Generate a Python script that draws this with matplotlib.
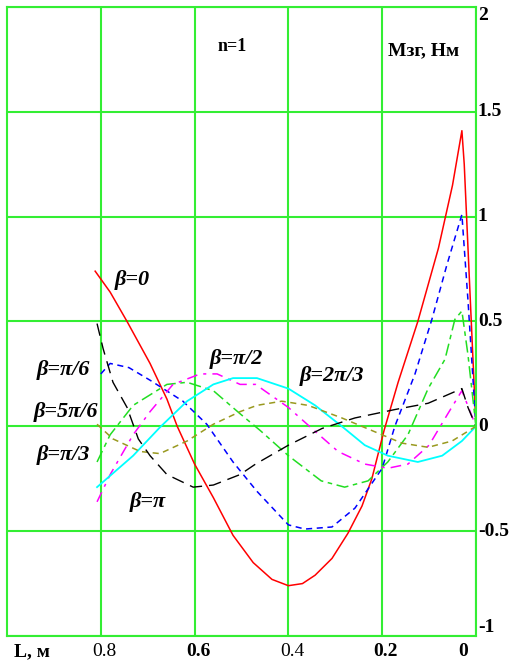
import numpy as np
import matplotlib.pyplot as plt
from matplotlib import transforms

# ---------------------------------------------------
# data (L in m, M in N*m)
# ---------------------------------------------------

L_b0 = [0.812, 0.78, 0.744, 0.695, 0.659, 0.637, 0.60, 0.56, 0.518, 0.475, 0.435, 0.40,
        0.37, 0.343, 0.307, 0.273, 0.243, 0.222, 0.196, 0.166, 0.124, 0.08, 0.05, 0.03,
        0.025, 0.02, 0.012, 0.0]
M_b0 = [0.74, 0.64, 0.50, 0.30, 0.13, 0.0, -0.18, -0.34, -0.52, -0.65, -0.73, -0.76,
        -0.75, -0.71, -0.63, -0.51, -0.38, -0.25, -0.02, 0.21, 0.50, 0.85, 1.15, 1.41,
        1.25, 1.0, 0.6, 0.0]

L_b30 = [0.80, 0.78, 0.74, 0.695, 0.625, 0.574, 0.518, 0.467, 0.40, 0.365, 0.307, 0.258,
         0.20, 0.173, 0.13, 0.094, 0.062, 0.03, 0.017, 0.0]
M_b30 = [0.25, 0.30, 0.28, 0.22, 0.12, 0.01, -0.17, -0.31, -0.47, -0.49, -0.48, -0.39,
         -0.20, 0.0, 0.25, 0.51, 0.77, 1.01, 0.60, 0.0]

L_b60 = [0.808, 0.78, 0.731, 0.659, 0.616, 0.56, 0.503, 0.46, 0.40, 0.33, 0.28, 0.23,
         0.188, 0.145, 0.102, 0.066, 0.045, 0.03, 0.017, 0.0]
M_b60 = [-0.17, -0.04, 0.10, 0.20, 0.21, 0.17, 0.06, -0.02, -0.14, -0.26, -0.29, -0.26,
         -0.17, -0.04, 0.18, 0.32, 0.51, 0.55, 0.34, 0.0]

L_b90 = [0.808, 0.78, 0.731, 0.695, 0.646, 0.588, 0.552, 0.503, 0.47, 0.40, 0.35, 0.294,
         0.237, 0.188, 0.145, 0.10, 0.06, 0.03, 0.0]
M_b90 = [-0.36, -0.23, -0.04, 0.07, 0.20, 0.25, 0.25, 0.20, 0.20, 0.09, -0.01, -0.12,
         -0.18, -0.20, -0.18, -0.09, 0.06, 0.17, 0.0]

L_b120 = [0.808, 0.731, 0.674, 0.616, 0.56, 0.518, 0.467, 0.40, 0.343, 0.286, 0.237,
          0.188, 0.124, 0.072, 0.03, 0.0]
M_b120 = [-0.29, -0.14, -0.005, 0.12, 0.20, 0.23, 0.23, 0.18, 0.10, 0.0, -0.09,
          -0.14, -0.17, -0.14, -0.07, 0.0]

L_b150 = [0.808, 0.774, 0.716, 0.674, 0.616, 0.56, 0.503, 0.467, 0.414, 0.358, 0.286,
          0.222, 0.158, 0.102, 0.051, 0.0]
M_b150 = [0.01, -0.06, -0.12, -0.13, -0.07, 0.01, 0.07, 0.10, 0.12, 0.10, 0.04,
          -0.02, -0.08, -0.10, -0.07, 0.0]

L_b180 = [0.808, 0.795, 0.774, 0.744, 0.72, 0.695, 0.659, 0.603, 0.56, 0.503, 0.47, 0.40,
          0.328, 0.258, 0.173, 0.102, 0.03, 0.017, 0.0]
M_b180 = [0.49, 0.37, 0.21, 0.09, -0.06, -0.14, -0.23, -0.29, -0.28, -0.23, -0.18, -0.09,
          -0.01, 0.04, 0.08, 0.11, 0.18, 0.09, 0.0]

x_ticks = [0.8, 0.6, 0.4, 0.2, 0.0]
x_labels = ["0.8", "0.6", "0.4", "0.2", "0"]
x_bold = [False, True, False, True, True]
y_ticks = [2, 1.5, 1, 0.5, 0, -0.5, -1]
y_labels = ["2", "1.5", "1", "0.5", "0", "-0.5", "-1"]

# ---------------------------------------------------
# figure
# ---------------------------------------------------

plt.rcParams['font.family'] = ['Liberation Serif', 'DejaVu Serif']
grn = "#33ee33"

fig = plt.figure(figsize=(5.15, 6.65), dpi=100)
ax = fig.add_axes([0.0136, 0.0436, 0.9106, 0.9459])
ax.set_xlim(1.0, 0.0)
ax.set_ylim(-1, 2)

for s in ax.spines.values():
    s.set_color(grn)
    s.set_linewidth(1.5)
ax.set_xticks(x_ticks)
ax.set_yticks(y_ticks)
ax.grid(True, color=grn, linewidth=1.5)
ax.tick_params(length=0, labelbottom=False, labelleft=False)

ax.plot(L_b0, M_b0, color="red", lw=1.1)
ax.plot(L_b30, M_b30, color="blue", lw=1.1, dashes=(4, 3))
ax.plot(L_b60, M_b60, color="#22dd22", lw=1.1, dashes=(8, 3, 3, 3))
ax.plot(L_b90, M_b90, color="magenta", lw=1.1, dashes=(7, 4, 2, 4))
ax.plot(L_b120, M_b120, color="cyan", lw=1.3)
ax.plot(L_b150, M_b150, color="#99991f", lw=1.1, dashes=(4, 3))
ax.plot(L_b180, M_b180, color="black", lw=1.0, dashes=(9, 5))

# tick labels
tr = transforms.blended_transform_factory(ax.transData, fig.transFigure)
for xv, lab, b in zip(x_ticks, x_labels, x_bold):
    ha = "right" if xv == 0 else "center"
    ax.text(xv + (0.018 if xv == 0 else -0.008), 0.02, lab, transform=tr, ha=ha, va="center",
            fontsize=14, fontweight="bold" if b else "normal")
fig.text(0.062, 0.02, "L, м", ha="center", va="center", fontsize=14, fontweight="bold")

tr2 = transforms.blended_transform_factory(fig.transFigure, ax.transData)
for yv, lab in zip(y_ticks, y_labels):
    va = "center"
    if yv == 2:
        va = "top"
    if yv == -1:
        va = "bottom"
    ax.text(0.928, yv, lab, transform=tr2, ha="left", va=va, fontsize=14, fontweight="bold")

ax.text(0.52, 1.81, "n=1", ha="center", va="center", fontsize=13, fontweight="bold")
ax.text(0.111, 1.79, "Mзг, Нм", ha="center", va="center", fontsize=14, fontweight="bold")

lab_kw = dict(fontsize=16, fontweight="bold", fontstyle="italic", va="center")
ax.text(0.733, 0.70, "β=0", ha="center", **lab_kw)
ax.text(0.88, 0.27, "β=π/6", ha="center", **lab_kw)
ax.text(0.874, 0.07, "β=5π/6", ha="center", **lab_kw)
ax.text(0.88, -0.135, "β=π/3", ha="center", **lab_kw)
ax.text(0.70, -0.36, "β=π", ha="center", **lab_kw)
ax.text(0.51, 0.32, "β=π/2", ha="center", **lab_kw)
ax.text(0.307, 0.24, "β=2π/3", ha="center", **lab_kw)

fig.savefig("out.png", dpi=100)
